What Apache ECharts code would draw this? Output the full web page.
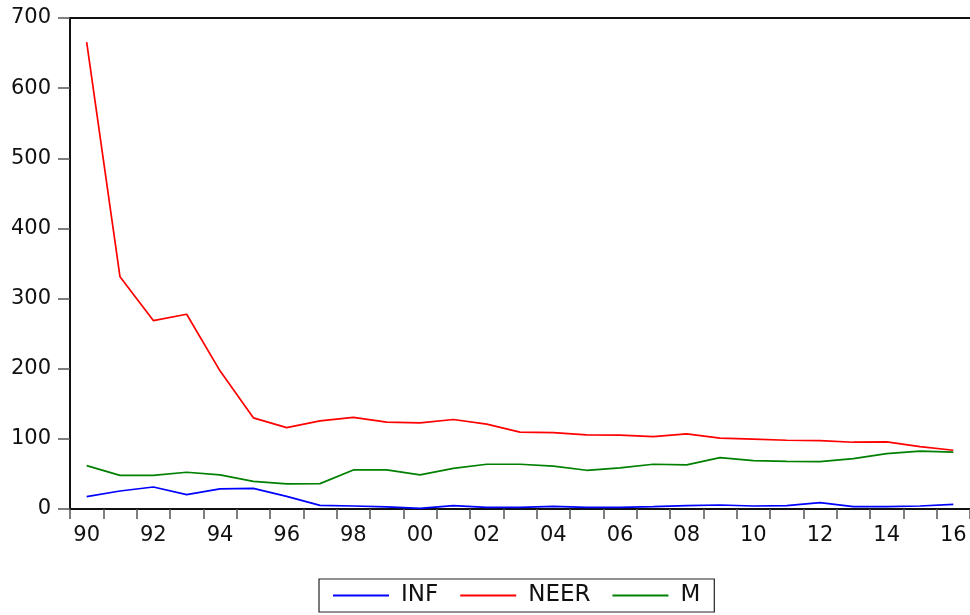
<!DOCTYPE html>
<html>
<head>
<meta charset="utf-8">
<script src="https://cdn.jsdelivr.net/npm/echarts@6/dist/echarts.min.js"></script>
<style>
html,body{margin:0;padding:0;background:#fff;}
#chart{width:970px;height:615px;}
</style>
</head>
<body>
<div id="chart"></div>
<script>
var years = ['90','91','92','93','94','95','96','97','98','99','00','01','02','03','04','05','06','07','08','09','10','11','12','13','14','15','16'];
var INF  = [17.6,25.7,31.4,20.5,28.6,29.5,18.0,5.2,4.3,2.9,0.8,4.8,2.4,2.4,3.8,2.4,2.4,3.3,4.8,5.7,4.3,4.8,9.0,3.3,3.3,4.3,6.7];
var NEER = [665.7,331,268.6,277.6,197,130,116,125.7,130.5,123.8,122.9,127.6,121,109.5,109,105.7,105.2,103.3,107,101,99.5,98,97.6,95.2,95.7,89,83.8];
var M    = [61.9,48,48,52.4,48.6,39.5,35.7,36.2,55.7,55.7,48.6,58,63.8,63.8,61,55.2,58.5,63.8,62.9,73.3,69,68,67.6,71.9,79,82.4,81];
var yTicks = [0,100,200,300,400,500,600,700];

var chart = echarts.init(document.getElementById('chart'));
var font = 'DejaVu Sans, Verdana, sans-serif';
chart.setOption({
  animation:false,
  backgroundColor:'#fff',
  grid:{left:70, top:18, right:0, bottom:106},
  legend:{
    data:['INF','NEER','M'],
    left:319, top:579,
    borderColor:'#222', borderWidth:1.2,
    padding:[5,14,5,14],
    itemWidth:56, itemHeight:2, itemGap:22,
    icon:'rect',
    textStyle:{fontFamily:font, fontSize:23, color:'#111', padding:[0,0,0,7]}
  },
  xAxis:[{
    type:'category', data:years, boundaryGap:true,
    axisLine:{lineStyle:{color:'#111', width:2}},
    axisTick:{show:true, length:10, interval:0, lineStyle:{color:'#555', width:1.5}},
    axisLabel:{interval:1, fontFamily:font, fontSize:21, color:'#111', margin:16}
  },{
    type:'category', data:years, position:'top',
    axisLine:{lineStyle:{color:'#111', width:2}},
    axisTick:{show:false}, axisLabel:{show:false}
  }],
  yAxis:{
    type:'value', min:0, max:yTicks[yTicks.length-1], interval:100,
    splitLine:{show:false},
    axisLine:{show:true, lineStyle:{color:'#111', width:2}},
    axisTick:{show:true, length:12, lineStyle:{color:'#555', width:1.5}},
    axisLabel:{fontFamily:font, fontSize:21, color:'#111', margin:19}
  },
  series:[
    {name:'INF', type:'line', data:INF, symbol:'none', lineStyle:{color:'#0000ff', width:1.7}, itemStyle:{color:'#0000ff'}},
    {name:'NEER', type:'line', data:NEER, symbol:'none', lineStyle:{color:'#ff0000', width:1.7}, itemStyle:{color:'#ff0000'}},
    {name:'M', type:'line', data:M, symbol:'none', lineStyle:{color:'#008000', width:1.7}, itemStyle:{color:'#008000'}}
  ]
});
</script>
</body>
</html>
